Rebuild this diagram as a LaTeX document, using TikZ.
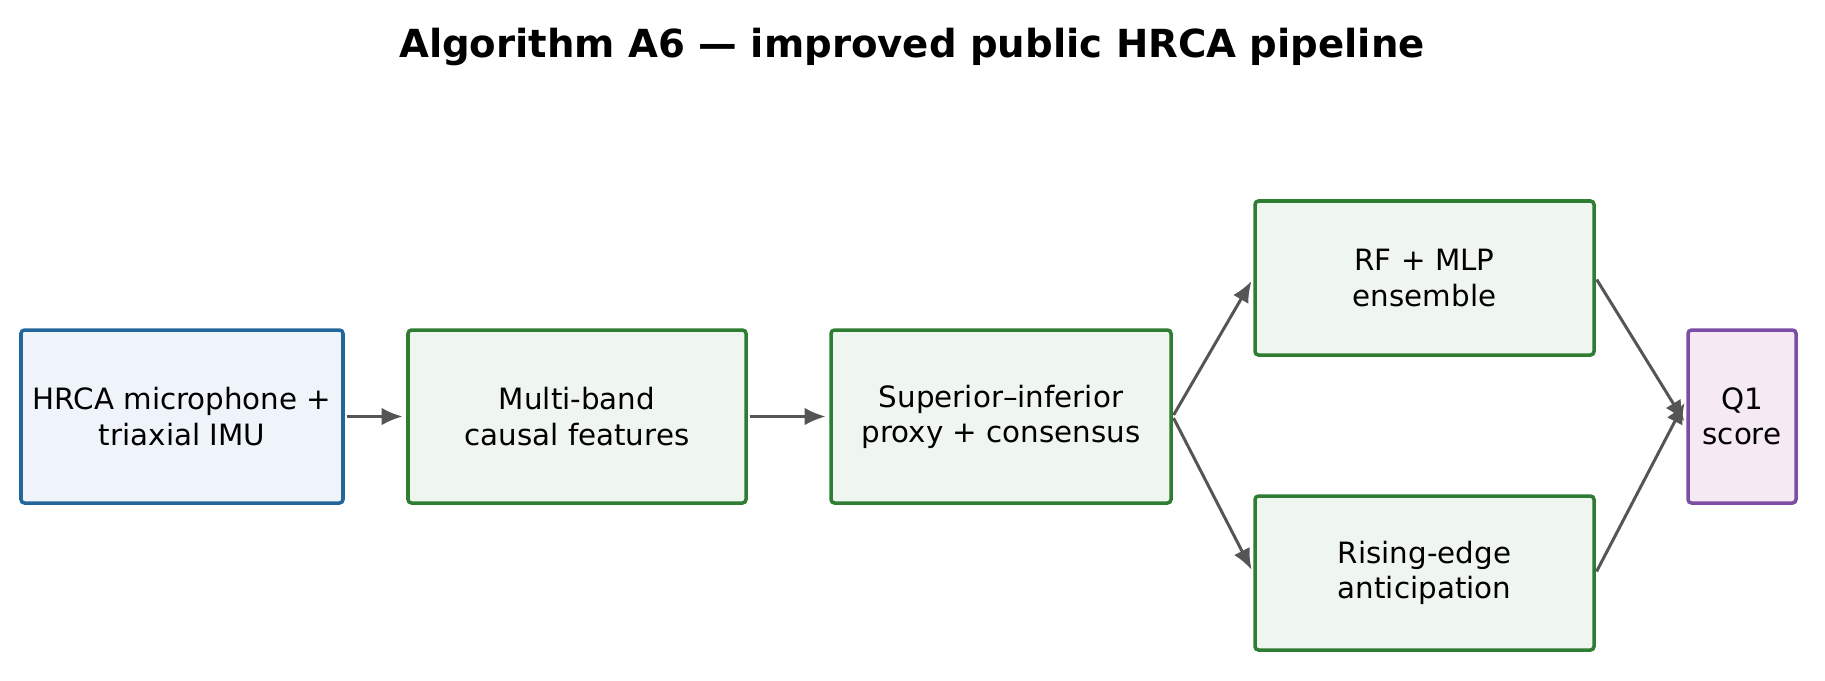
\documentclass[tikz,border=0pt]{standalone}
\usepackage{fontspec}
\setmainfont{DejaVu Sans}
\usetikzlibrary{arrows.meta}
\definecolor{inblue}{HTML}{23679A}
\definecolor{infill}{HTML}{EEF4FA}
\definecolor{stepgreen}{HTML}{2E7D32}
\definecolor{stepfill}{HTML}{EFF5EF}
\definecolor{outpurple}{HTML}{7B4EA3}
\definecolor{outfill}{HTML}{F5EAF3}
\definecolor{flowgray}{HTML}{555555}
\tikzset{
  box/.style={draw,line width=2pt,rounded corners=2pt,align=center,inner sep=0pt,font=\fontsize{16.7}{20}\selectfont},
  stage/.style={box,draw=stepgreen,fill=stepfill},
  flow/.style={draw=flowgray,line width=1.7pt,-{Latex[length=12pt,width=10pt]},shorten >=2pt,shorten <=1pt}
}
\begin{document}
\begin{tikzpicture}[x=0.02cm,y=-0.02cm]
\useasboundingbox (0,0) rectangle (1825,680);
\node[font=\fontsize{22}{26}\selectfont\bfseries] (title) at (912,47) {Algorithm A6 — improved public HRCA pipeline};

\node[box,draw=inblue,fill=infill,minimum width=322*0.02cm,minimum height=173*0.02cm] (input) at (182,416.5) {HRCA microphone +\\triaxial IMU};
\node[stage,minimum width=338*0.02cm,minimum height=173*0.02cm] (feat) at (577,416.5) {Multi-band\\causal features};
\node[stage,minimum width=340*0.02cm,minimum height=173*0.02cm] (proxy) at (1001,416.5) {Superior–inferior\\proxy + consensus};
\node[stage,minimum width=339*0.02cm,minimum height=154*0.02cm] (ens) at (1424.5,278) {RF + MLP\\ensemble};
\node[stage,minimum width=339*0.02cm,minimum height=154*0.02cm] (rise) at (1424.5,573) {Rising-edge\\anticipation};
\node[box,draw=outpurple,fill=outfill,minimum width=108*0.02cm,minimum height=173*0.02cm] (score) at (1742,416.5) {Q1\\score};

\draw[flow] (input) -- (feat);
\draw[flow] (feat) -- (proxy);
\draw[flow] (proxy.east) -- (ens.west);
\draw[flow] (proxy.east) -- (rise.west);
\draw[flow] (ens.east) -- ([yshift=-0.16cm]score.west);
\draw[flow] (rise.east) -- ([yshift=0.34cm]score.west);
\end{tikzpicture}
\end{document}
